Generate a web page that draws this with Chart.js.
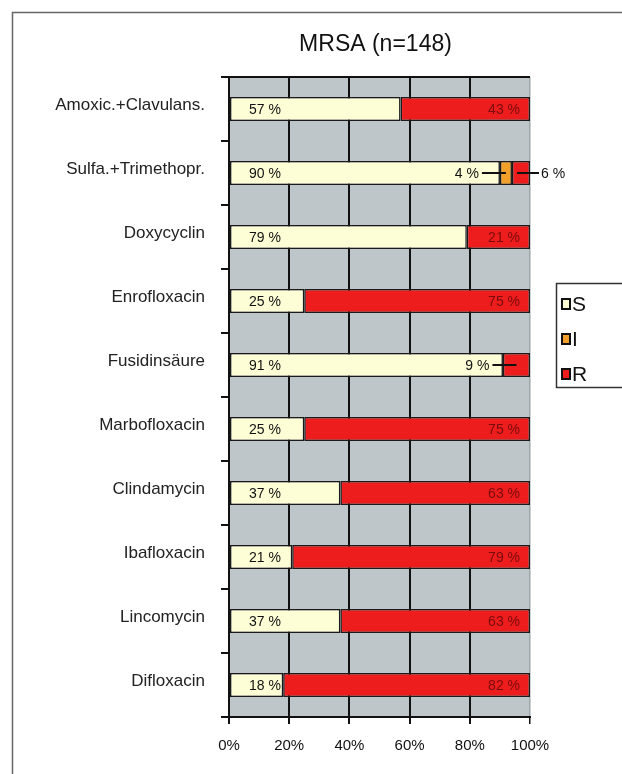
<!DOCTYPE html>
<html>
<head>
<meta charset="utf-8">
<script src="https://cdn.jsdelivr.net/npm/chart.js@4.4.1/dist/chart.umd.min.js"></script>
<style>
  html, body { margin: 0; padding: 0; background: #fff; overflow: hidden; }
  canvas { display: block; }
</style>
</head>
<body>
<canvas id="c" width="622" height="774"></canvas>
<script>
// Antibiotic susceptibility of MRSA isolates (percent of isolates)
const titleText = 'MRSA (n=148)';
const categories = [
  'Amoxic.+Clavulans.', 'Sulfa.+Trimethopr.', 'Doxycyclin', 'Enrofloxacin',
  'Fusidinsäure', 'Marbofloxacin', 'Clindamycin', 'Ibafloxacin',
  'Lincomycin', 'Difloxacin'
];
const seriesNames = ['S', 'I', 'R'];
const sensitive    = [57, 90, 79, 25, 91, 25, 37, 21, 37, 18];
const intermediate = [ 0,  4,  0,  0,  0,  0,  0,  0,  0,  0];
const resistant    = [43,  6, 21, 75,  9, 75, 63, 79, 63, 82];
const xTicks = [0, 20, 40, 60, 80, 100];

const FONT = "'Liberation Sans', Arial, Helvetica, sans-serif";
const colors = {
  S: '#fefed6',
  I: '#f2a02a',
  R: '#ee1d1d',
  plotBg: '#bec6ca',
  frame: '#666',
  rText: '#7a0c0c'
};

// Background, outer frame, plot area and title
const backdrop = {
  id: 'backdrop',
  beforeDraw(chart) {
    const { ctx, chartArea: a } = chart;
    ctx.save();
    ctx.fillStyle = '#fff';
    ctx.fillRect(0, 0, chart.width, chart.height);
    ctx.strokeStyle = colors.frame;
    ctx.lineWidth = 1.5;
    ctx.strokeRect(12.5, 12.5, chart.width + 40, chart.height + 40);
    ctx.fillStyle = colors.plotBg;
    ctx.fillRect(a.left, a.top, a.right - a.left, a.bottom - a.top);
    ctx.fillStyle = '#111';
    ctx.font = '23px ' + FONT;
    ctx.textAlign = 'center';
    ctx.textBaseline = 'middle';
    ctx.fillText(titleText, (a.left + a.right) / 2 - 4, 45);
    ctx.restore();
  },
  beforeDatasetsDraw(chart) {
    const { ctx, chartArea: a } = chart;
    ctx.save();
    ctx.strokeStyle = '#111';
    ctx.lineWidth = 2;
    ctx.beginPath();
    ctx.moveTo(a.left, a.top);
    ctx.lineTo(a.right, a.top);
    ctx.stroke();
    ctx.restore();
  }
};

// Percentage labels inside the bars, with leader lines for narrow segments
const segmentLabels = {
  id: 'segmentLabels',
  afterDatasetsDraw(chart) {
    const { ctx } = chart;
    ctx.save();
    ctx.font = '14px ' + FONT;
    ctx.textBaseline = 'middle';
    ctx.lineWidth = 2;
    ctx.strokeStyle = '#111';
    categories.forEach((cat, i) => {
      let narrowCount = 0;
      chart.data.datasets.forEach((ds, d) => {
        const v = ds.data[i];
        if (!v) return;
        const bar = chart.getDatasetMeta(d).data[i];
        const x0 = bar.base, x1 = bar.x, y = bar.y;
        const text = v + ' %';
        if (d === 0) {
          ctx.fillStyle = '#111';
          ctx.textAlign = 'left';
          ctx.fillText(text, x0 + 19, y + 1);
        } else if (v >= 15) {
          ctx.fillStyle = colors.rText;
          ctx.textAlign = 'right';
          ctx.fillText(text, x1 - 10, y + 1);
        } else {
          const cx = (x0 + x1) / 2;
          ctx.fillStyle = '#111';
          if (narrowCount === 0) {
            ctx.beginPath();
            ctx.moveTo(cx - 24, y);
            ctx.lineTo(cx, y);
            ctx.stroke();
            ctx.textAlign = 'right';
            ctx.fillText(text, cx - 27, y + 1);
          } else {
            const end = chart.chartArea.right + 9;
            ctx.beginPath();
            ctx.moveTo(cx - 4, y);
            ctx.lineTo(end, y);
            ctx.stroke();
            ctx.textAlign = 'left';
            ctx.fillText(text, end + 2, y + 1);
          }
          narrowCount++;
        }
      });
    });
    ctx.restore();
  }
};

// Boxed legend at the right of the plot
const boxLegend = {
  id: 'boxLegend',
  afterDraw(chart) {
    const { ctx } = chart;
    const left = 556, top = 283, h = 104;
    ctx.save();
    ctx.fillStyle = '#fff';
    ctx.fillRect(left, top, 120, h);
    ctx.strokeStyle = '#333';
    ctx.lineWidth = 1.5;
    ctx.strokeRect(left + 0.5, top + 0.5, 120, h);
    ctx.font = '21px ' + FONT;
    ctx.textBaseline = 'middle';
    ctx.textAlign = 'left';
    chart.data.datasets.forEach((ds, d) => {
      const y = top + 21 + d * 35;
      ctx.fillStyle = ds.backgroundColor;
      ctx.fillRect(left + 6, y - 5, 8, 10);
      ctx.strokeStyle = '#111';
      ctx.lineWidth = 2;
      ctx.strokeRect(left + 6, y - 5, 8, 10);
      ctx.fillStyle = '#111';
      ctx.fillText(ds.label, left + 16, y + 1);
    });
    ctx.restore();
  }
};

const seriesValues = [sensitive, intermediate, resistant];
const datasets = seriesNames.map((name, k) => ({
  label: name,
  data: seriesValues[k],
  backgroundColor: colors[name],
  borderColor: '#1a1a1a',
  borderWidth: 1.5,
  borderSkipped: false,
  categoryPercentage: 1,
  barPercentage: 0.375
}));

new Chart(document.getElementById('c'), {
  type: 'bar',
  data: { labels: categories, datasets },
  options: {
    indexAxis: 'y',
    responsive: false,
    animation: false,
    devicePixelRatio: 1,
    layout: { padding: { left: 12, top: 77, right: 92, bottom: 0 } },
    plugins: {
      legend: { display: false },
      title: { display: false },
      tooltip: { enabled: false }
    },
    scales: {
      x: {
        stacked: true,
        min: 0,
        max: 100,
        afterFit(s) { s.height = 57; },
        afterBuildTicks(s) { s.ticks = xTicks.map(v => ({ value: v })); },
        ticks: {
          callback: v => v + '%',
          color: '#111',
          padding: 13,
          font: { family: FONT, size: 15 }
        },
        grid: {
          color: c => (c.tick && c.tick.value === 100) ? '#9ea6aa' : '#111',
          lineWidth: c => (c.tick && c.tick.value === 100) ? 1.5 : 2,
          tickColor: '#111',
          tickLength: 7,
          drawOnChartArea: true
        },
        border: { display: true, color: '#111', width: 2 }
      },
      y: {
        stacked: true,
        afterFit(s) { s.width = 217; },
        ticks: {
          color: '#222',
          padding: 16,
          labelOffset: -4,
          font: { family: FONT, size: 17 }
        },
        grid: {
          offset: true,
          drawOnChartArea: false,
          tickColor: '#111',
          tickLength: 8,
          lineWidth: 2
        },
        border: { display: true, color: '#111', width: 2 }
      }
    }
  },
  plugins: [backdrop, segmentLabels, boxLegend]
});
</script>
</body>
</html>
